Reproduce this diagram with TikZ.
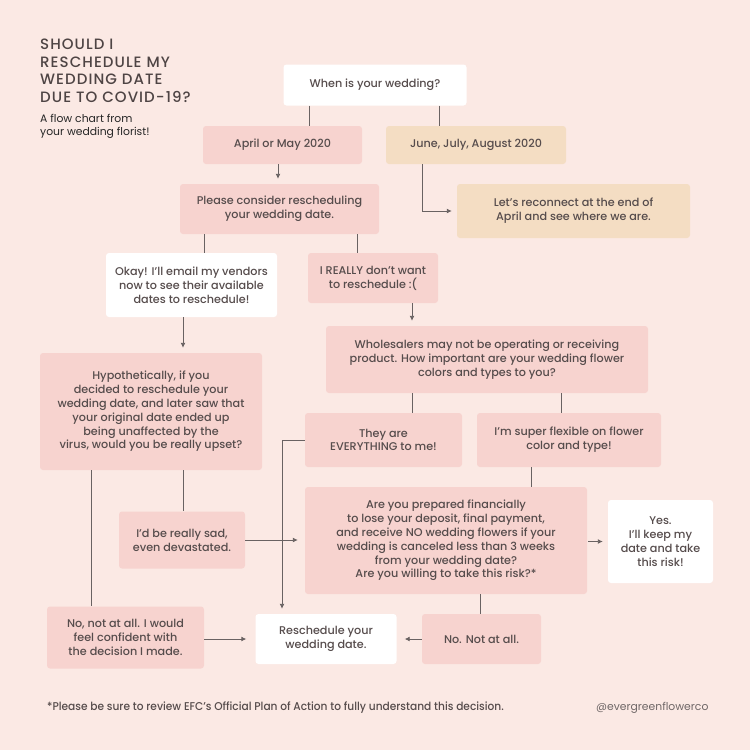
\documentclass[tikz,border=0pt]{standalone}
\usepackage{fontspec}
\setmainfont{Poppins}[UprightFont=* Medium]
\newfontfamily\titlefont[LetterSpace=7]{Poppins}[UprightFont=* Medium]
\newfontfamily\notefont[FakeStretch=0.94]{Poppins}[UprightFont=* Medium]
\newfontfamily\handlefont{Poppins}
\usetikzlibrary{arrows.meta}

\definecolor{bgpink}{RGB}{251,233,228}
\definecolor{boxpink}{RGB}{247,211,207}
\definecolor{boxbeige}{RGB}{244,221,195}
\definecolor{txtgray}{RGB}{86,76,76}
\definecolor{linegray}{RGB}{105,98,98}

\tikzset{
  box/.style={rounded corners=3pt, inner sep=0pt, align=center, text=txtgray,
    font=\fontsize{11.2}{13.8}\selectfont},
  pinkbox/.style={box, fill=boxpink},
  beigebox/.style={box, fill=boxbeige},
  whitebox/.style={box, fill=white},
  link/.style={draw=linegray, line width=0.9pt},
  arr/.style={link, -{Latex[length=5pt,width=5pt]}, shorten >=5pt},
}

\begin{document}
\begin{tikzpicture}[x=1pt,y=-1pt]
\fill[bgpink] (0,0) rectangle (750,750);

% title
\node[anchor=north west, align=left, inner sep=0pt, text=txtgray!90!black,
  font=\titlefont\fontsize{15}{17.6}\selectfont] (title) at (40,39)
  {SHOULD I\\RESCHEDULE MY\\WEDDING DATE\\DUE TO COVID-19?};
\node[anchor=north west, align=left, inner sep=0pt, text=black!85,
  font=\handlefont\fontsize{10.8}{13.5}\selectfont] (subtitle) at (40,114)
  {A flow chart from\\your wedding florist!};

% boxes
\node[whitebox, minimum width=183pt, minimum height=41pt] (when) at (375,85) {When is your wedding?};
\node[pinkbox, minimum width=159pt, minimum height=38pt] (apr) at (282.5,145) {April or May 2020};
\node[beigebox, minimum width=180pt, minimum height=38pt] (jun) at (476,145) {June, July, August 2020};
\node[pinkbox, minimum width=199pt, minimum height=50pt] (consider) at (279.5,209)
  {Please consider rescheduling\\your wedding date.};
\node[beigebox, minimum width=233pt, minimum height=54pt] (reconnect) at (573.5,211)
  {Let’s reconnect at the end of\\April and see where we are.};
\node[whitebox, minimum width=171pt, minimum height=64pt] (email) at (191.5,285)
  {Okay! I’ll email my vendors\\now to see their available\\dates to reschedule!};
\node[pinkbox, minimum width=130pt, minimum height=50pt] (nowant) at (373,278)
  {I REALLY don’t want\\to reschedule :(};
\node[pinkbox, minimum width=222pt, minimum height=117pt] (hypo) at (151,411.5)
  {Hypothetically, if you\\decided to reschedule your\\wedding date, and later saw that\\your original date ended up\\being unaffected by the\\virus, would you be really upset?};
\node[pinkbox, minimum width=322pt, minimum height=67pt] (wholesale) at (487,359.5)
  {Wholesalers may not be operating or receiving\\product. How important are your wedding flower\\colors and types to you?};
\node[pinkbox, minimum width=157pt, minimum height=54pt] (everything) at (383.5,440)
  {They are\\EVERYTHING to me!};
\node[pinkbox, minimum width=184pt, minimum height=54pt] (flexible) at (569,440)
  {I’m super flexible on flower\\color and type!};
\node[pinkbox, minimum width=282pt, minimum height=107pt] (risk) at (446,540.5)
  {Are you prepared financially\\to lose your deposit, final payment,\\and receive NO wedding flowers if your\\wedding is canceled less than 3 weeks\\from your wedding date?\\Are you willing to take this risk?*};
\node[whitebox, minimum width=105pt, minimum height=83pt] (keep) at (660.5,541.5)
  {Yes.\\I’ll keep my\\date and take\\this risk!};
\node[pinkbox, minimum width=126pt, minimum height=57pt] (sad) at (182,540)
  {I’d be really sad,\\even devastated.};
\node[pinkbox, minimum width=157pt, minimum height=62pt] (confident) at (125.5,637.5)
  {No, not at all. I would\\feel confident with\\the decision I made.};
\node[whitebox, minimum width=141pt, minimum height=50pt] (resched) at (326,639)
  {Reschedule your\\wedding date.};
\node[pinkbox, minimum width=119pt, minimum height=50pt] (notatall) at (481.5,639)
  {No. Not at all.};

% connectors
\draw[link] (when.south -| 309,0) -- (apr.north -| 309,0);
\draw[link] (when.south -| 439,0) -- (jun.north -| 439,0);
\draw[arr] (apr.south -| 278,0) -- (consider.north -| 278,0);
\draw[arr] (jun.south -| 422,0) |- (reconnect.west);
\draw[link] (consider.south -| 204,0) -- (email.north -| 204,0);
\draw[link] (consider.south -| 357,0) -- (nowant.north -| 357,0);
\draw[arr] (email.south -| 183,0) -- (hypo.north -| 183,0);
\draw[arr] (nowant.south -| 412,0) -- (wholesale.north -| 412,0);
\draw[link] (wholesale.south -| 412,0) -- (everything.north -| 412,0);
\draw[link] (wholesale.south -| 561,0) -- (flexible.north -| 561,0);
\draw[link] (hypo.south -| 183,0) -- (sad.north -| 183,0);
\draw[link] (hypo.south -| 91,0) -- (confident.north -| 91,0);
\draw[arr, shorten >=7pt] (sad.east) -- (risk.west |- sad.east);
\draw[arr] (everything.west) -| (resched.north -| 282,0);
\draw[link] (flexible.south -| 531,0) -- (risk.north -| 531,0);
\draw[arr] ([xshift=1pt]risk.east |- keep.west) -- (keep.west);
\draw[link] (risk.south -| 480,0) -- (notatall.north -| 480,0);
\draw[arr, shorten >=8pt] (notatall.west) -- (resched.east);
\draw[arr, shorten >=9pt] (confident.east |- resched.west) -- (resched.west);

% footer
\node[anchor=base west, inner sep=0pt, text=txtgray, font=\notefont\fontsize{11.3}{13}\selectfont]
  (note) at (47,710) {*Please be sure to review EFC’s Official Plan of Action to fully understand this decision.};
\node[anchor=base west, inner sep=0pt, text=txtgray!85, font=\handlefont\fontsize{10.8}{13}\selectfont]
  (handle) at (596,710) {@evergreenflowerco};
\end{tikzpicture}
\end{document}
